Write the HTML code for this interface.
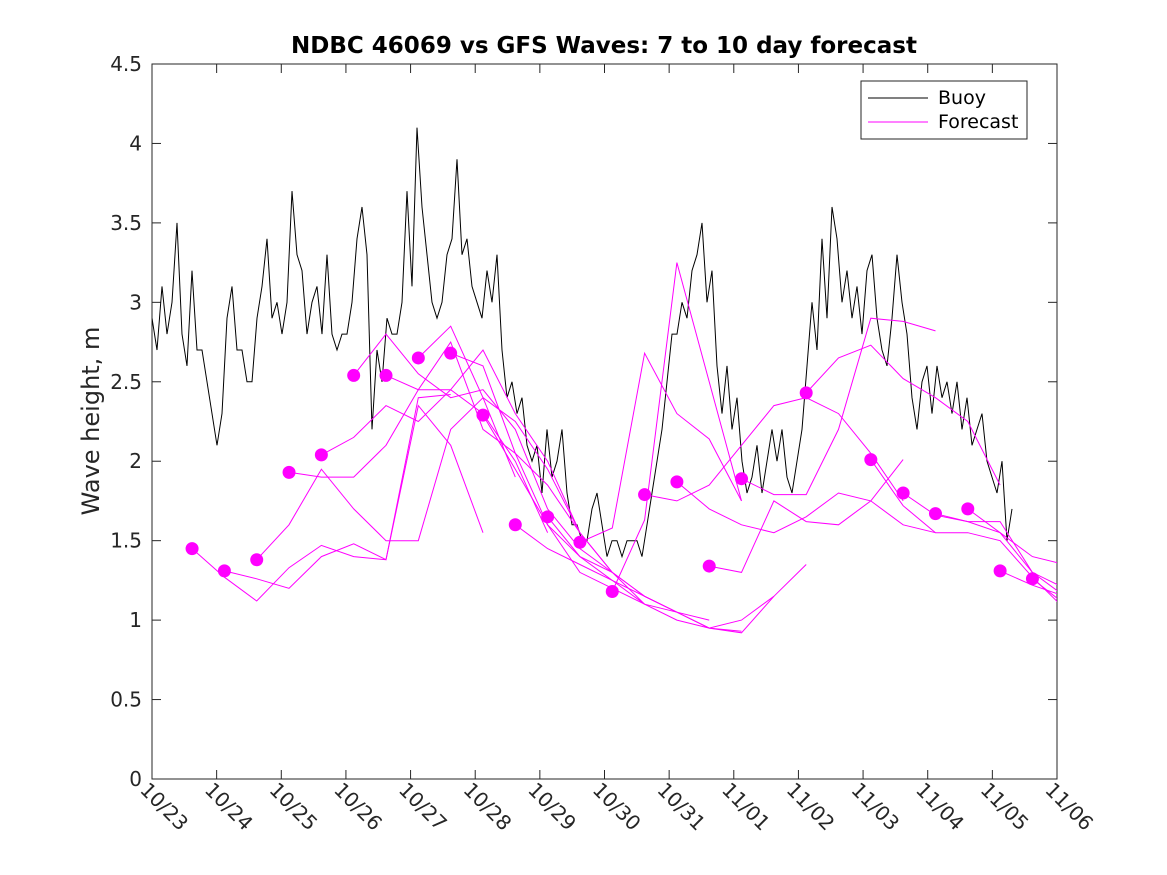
<!DOCTYPE html>
<html><head><meta charset="utf-8">
<style>
html,body{margin:0;padding:0;background:#fff;}
svg{display:block;font-family:"DejaVu Sans","Liberation Sans",sans-serif;}
</style></head>
<body>
<svg id="chart" width="1167" height="875" viewBox="0 0 1167 875" xmlns="http://www.w3.org/2000/svg">
<rect width="1167" height="875" fill="#fff"/>
<defs><clipPath id="plotclip"><rect x="152" y="64" width="905" height="715"/></clipPath></defs>
<text x="604" y="53" text-anchor="middle" font-size="23" font-weight="bold" fill="#000">NDBC 46069 vs GFS Waves: 7 to 10 day forecast</text>
<text transform="translate(99,421) rotate(-90)" text-anchor="middle" font-size="24" fill="#262626">Wave height, m</text>
<g id="axes"></g>
<g id="series" clip-path="url(#plotclip)"></g>
<g>
  <rect x="861" y="81" width="166" height="58" fill="#fff" stroke="#262626" stroke-width="1"/>
  <line x1="868" y1="98" x2="928" y2="98" stroke="#000" stroke-width="1"/>
  <text x="938" y="104" font-size="19" fill="#000">Buoy</text>
  <line x1="868" y1="122" x2="928" y2="122" stroke="#ff00ff" stroke-width="1"/>
  <text x="938" y="128" font-size="19" fill="#000">Forecast</text>
</g>
</svg>
<script>
const xTickLabels = ["10/23","10/24","10/25","10/26","10/27","10/28","10/29","10/30","10/31","11/01","11/02","11/03","11/04","11/05","11/06"];
const yTickValues = [0,0.5,1,1.5,2,2.5,3,3.5,4,4.5];
const yTickLabels = ["0","0.5","1","1.5","2","2.5","3","3.5","4","4.5"];
const buoyStartDay = 0;
const buoyStepDays = 0.07735;
const buoyValues = [2.9,2.7,3.1,2.8,3.0,3.5,2.8,2.6,3.2,2.7,2.7,2.5,2.3,2.1,2.3,2.9,3.1,2.7,2.7,2.5,2.5,2.9,3.1,3.4,2.9,3.0,2.8,3.0,3.7,3.3,3.2,2.8,3.0,3.1,2.8,3.3,2.8,2.7,2.8,2.8,3.0,3.4,3.6,3.3,2.2,2.7,2.5,2.9,2.8,2.8,3.0,3.7,3.1,4.1,3.6,3.3,3.0,2.9,3.0,3.3,3.4,3.9,3.3,3.4,3.1,3.0,2.9,3.2,3.0,3.3,2.7,2.4,2.5,2.3,2.4,2.1,2.0,2.1,1.8,2.2,1.9,2.0,2.2,1.8,1.6,1.6,1.5,1.5,1.7,1.8,1.6,1.4,1.5,1.5,1.4,1.5,1.5,1.5,1.4,1.6,1.8,2.0,2.2,2.5,2.8,2.8,3.0,2.9,3.2,3.3,3.5,3.0,3.2,2.6,2.3,2.6,2.2,2.4,2.0,1.8,1.9,2.1,1.8,2.0,2.2,2.0,2.2,1.9,1.8,2.0,2.2,2.6,3.0,2.7,3.4,2.9,3.6,3.4,3.0,3.2,2.9,3.1,2.8,3.2,3.3,2.9,2.7,2.6,2.9,3.3,3.0,2.8,2.4,2.2,2.5,2.6,2.3,2.6,2.4,2.5,2.3,2.5,2.2,2.4,2.1,2.2,2.3,2.0,1.9,1.8,2.0,1.5,1.7];
const forecastStartDays = [0.62,1.12,1.62,2.12,2.62,3.12,3.62,4.12,4.62,5.12,5.62,6.12,6.62,7.12,7.62,8.12,8.62,9.12,10.12,11.12,11.62,12.12,12.62,13.12,13.62];
const forecastStepDays = 0.5;
const forecastValues = [
 [1.45,1.27,1.12,1.33,1.47,1.40,1.38,2.40,2.42],
 [1.31,1.26,1.20,1.40,1.48,1.38,2.35,2.10,1.55],
 [1.38,1.60,1.95,1.70,1.50,1.50,2.20,2.40,1.90],
 [1.93,1.90,1.90,2.10,2.45,2.45,2.30,2.00,1.55],
 [2.04,2.15,2.35,2.25,2.45,2.70,2.30,2.00,1.55],
 [2.54,2.80,2.55,2.40,2.45,2.20,1.70,1.45,1.30],
 [2.54,2.45,2.75,2.20,2.05,1.60,1.30,1.20,1.10],
 [2.65,2.85,2.40,2.25,1.95,1.55,1.30,1.15,1.05],
 [2.68,2.60,2.05,1.85,1.55,1.30,1.15,1.05,1.00],
 [2.29,1.95,1.60,1.40,1.30,1.10,1.00,0.95,0.93],
 [1.60,1.45,1.35,1.25,1.10,1.05,0.95,1.00,1.15],
 [1.65,1.40,1.25,1.15,1.05,0.95,0.92,1.15,1.35],
 [1.49,1.58,2.68,2.30,2.14,1.75],
 [1.18,1.63,3.25,2.50,1.75],
 [1.79,1.75,1.85,2.10,2.35,2.40,2.30,2.05,1.75],
 [1.87,1.70,1.60,1.55,1.65,1.80,1.75,1.60,1.55],
 [1.34,1.30,1.75,1.62,1.60,1.75,2.01],
 [1.89,1.79,1.79,2.20,2.90,2.88,2.82],
 [2.43,2.65,2.73,2.52,2.40,2.25,1.85],
 [2.01,1.72,1.55,1.55,1.50,1.27,1.07],
 [1.80,1.66,1.62,1.62,1.30,1.15,1.05],
 [1.67,1.62,1.55,1.30,1.20,1.08],
 [1.70,1.55,1.40,1.35,1.65,2.10],
 [1.31,1.22,1.15,1.10],
 [1.26,1.10,1.05]
];

const NS = "http://www.w3.org/2000/svg";
const X0=152, X1=1057, Y0=779, Y1=64, DAYS=14, YMAX=4.5;
function xs(d){return X0+(d/DAYS)*(X1-X0);}
function ys(v){return Y0-(v/YMAX)*(Y0-Y1);}
function mk(tag,attrs){const e=document.createElementNS(NS,tag);for(const k in attrs)e.setAttribute(k,attrs[k]);return e;}

const axes=document.getElementById('axes');
const series=document.getElementById('series');

const box=mk('rect',{x:X0,y:Y1,width:X1-X0,height:Y0-Y1,fill:'none',stroke:'#262626','stroke-width':1});


axes.appendChild(box);

yTickValues.forEach((v,i)=>{
  const y=ys(v);
  axes.appendChild(mk('line',{x1:X0,y1:y,x2:X0+9,y2:y,stroke:'#262626'}));
  axes.appendChild(mk('line',{x1:X1,y1:y,x2:X1-9,y2:y,stroke:'#262626'}));
  const t=mk('text',{x:X0-10,y:y+7,'text-anchor':'end','font-size':20,fill:'#262626'});
  t.textContent=yTickLabels[i];
  
  
  axes.appendChild(t);
});
xTickLabels.forEach((lab,i)=>{
  const x=xs(i);
  axes.appendChild(mk('line',{x1:x,y1:Y0,x2:x,y2:Y0-9,stroke:'#262626'}));
  axes.appendChild(mk('line',{x1:x,y1:Y1,x2:x,y2:Y1+9,stroke:'#262626'}));
  const t=mk('text',{x:0,y:0,'font-size':20,fill:'#262626',transform:`translate(${x-13},${Y0+12}) rotate(45)`});
  t.textContent=lab;
  
  
  axes.appendChild(t);
});

let d=buoyValues.map((v,i)=>(i?'L':'M')+xs(buoyStartDay+i*buoyStepDays).toFixed(1)+','+ys(v).toFixed(1)).join('');
const bl=mk('path',{d:d,fill:'none',stroke:'#000','stroke-width':1});


series.appendChild(bl);

forecastValues.forEach((vals,k)=>{
  const s=forecastStartDays[k];
  const pd=vals.map((v,i)=>(i?'L':'M')+xs(s+i*forecastStepDays).toFixed(1)+','+ys(v).toFixed(1)).join('');
  const p=mk('path',{d:pd,fill:'none',stroke:'#ff00ff','stroke-width':1});
  
  
  series.appendChild(p);
});
forecastValues.forEach((vals,k)=>{
  const c=mk('circle',{cx:xs(forecastStartDays[k]),cy:ys(vals[0]),r:6.5,fill:'#ff00ff'});
  
  
  series.appendChild(c);
});
</script>
</body></html>
